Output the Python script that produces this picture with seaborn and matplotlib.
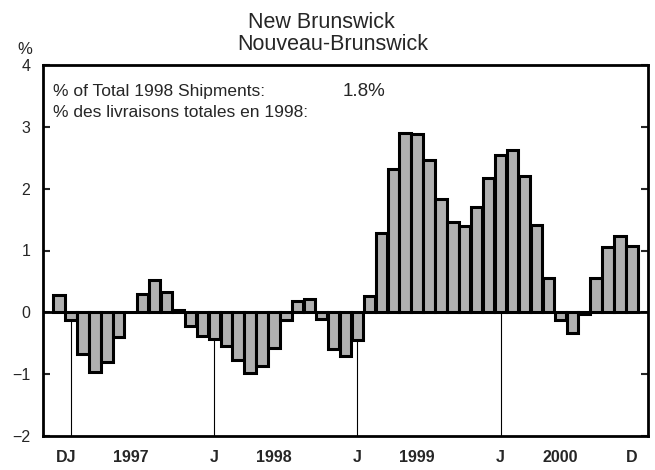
import pandas as pd
import matplotlib
matplotlib.use('Agg')
import matplotlib.pyplot as plt
import seaborn as sns

# Monthly % change, Dec 1996 .. Dec 2000
values = [0.28, -0.13, -0.67, -0.96, -0.80, -0.40, 0.0, 0.29, 0.53, 0.33,
          0.04, -0.22, -0.38, -0.43, -0.54, -0.77, -0.98, -0.86, -0.57, -0.12,
          0.18, 0.21, -0.10, -0.59, -0.70, -0.44, 0.27, 1.28, 2.31, 2.90,
          2.88, 2.46, 1.84, 1.46, 1.40, 1.70, 2.17, 2.54, 2.62, 2.20,
          1.41, 0.56, -0.12, -0.34, -0.03, 0.56, 1.05, 1.24, 1.08]
months = list(range(len(values)))
january_idx = [1, 13, 25, 37]

tick_pos = [0.6, 6, 13, 18, 25, 30, 37, 42, 48]
tick_labels = ['DJ', '1997', 'J', '1998', 'J', '1999', 'J', '2000', 'D']

df = pd.DataFrame({'month': months, 'pct': values})

sns.set_style('white')
plt.rcParams['font.family'] = ['Liberation Sans', 'DejaVu Sans']

W, H = 655, 470
fig = plt.figure(figsize=(W / 100, H / 100), dpi=100)
ax = fig.add_axes([43/W, 1 - 436/H, 605/W, 371/H])

# january guide lines sit behind the bars
ax.vlines(january_idx, -2, 0, color='black', linewidth=0.8, zorder=0)

sns.barplot(data=df, x='month', y='pct', color='#b0b0b0', saturation=1,
            edgecolor='black', linewidth=2.2, width=0.95, errorbar=None, ax=ax, zorder=2)

ax.axhline(0, color='black', linewidth=2, zorder=3)

ax.set_xlim(-1.35, 49.35)
ax.set_ylim(-2, 4)
ax.set_yticks(range(-2, 5))
ax.set_xticks(tick_pos)
ax.set_xticklabels(tick_labels, fontsize=11.5, fontweight='bold')
ax.tick_params(axis='x', length=0, pad=10)
ax.tick_params(axis='y', direction='in', length=5, width=1.5, labelsize=11.5,
               right=True, left=True, pad=9)
ax.set_xlabel('')
ax.set_ylabel('')
for s in ax.spines.values():
    s.set_color('black')
    s.set_linewidth(2)

# two-line title, placed in pixels
fig.text(321/W, 1 - 28/H, 'New Brunswick', fontsize=15.5, ha='center', va='baseline')
fig.text(333/W, 1 - 50/H, 'Nouveau-Brunswick', fontsize=15.5, ha='center', va='baseline')
fig.text(25/W, 1 - 50/H, '%', ha='center', va='center', fontsize=12)

ax.text(0.0165, 0.9164, '% of Total 1998 Shipments:', transform=ax.transAxes,
        fontsize=12.5, va='baseline')
ax.text(0.0165, 0.860, '% des livraisons totales en 1998:', transform=ax.transAxes,
        fontsize=12.5, va='baseline')
ax.text(0.496, 0.9164, '1.8%', transform=ax.transAxes, fontsize=13.5, va='baseline')

fig.savefig('out.png', dpi=100)
